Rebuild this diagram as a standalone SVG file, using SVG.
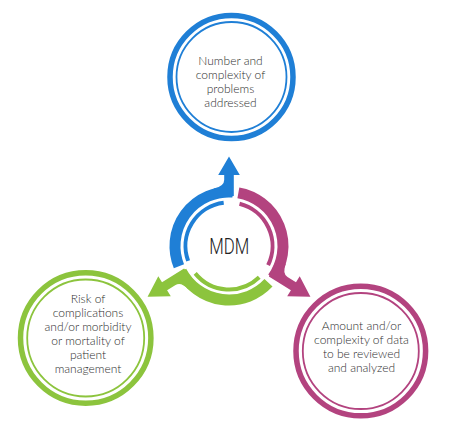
<svg xmlns="http://www.w3.org/2000/svg" width="450" height="428" viewBox="0 0 450 428">
<style>
.lbl{font-family:Lato,"Open Sans","Liberation Sans",sans-serif;font-size:12px;font-weight:300;fill:#2e2e2e;text-anchor:middle}
.ring{fill:none;stroke-width:5.5}
.thin{fill:none;stroke-width:1.8}
.band{fill:none;stroke-width:11}
.iband{fill:none;stroke-width:4}
.blue{stroke:#1f7fd6}
.purple{stroke:#b3437f}
.green{stroke:#8cc43d}
</style>
<defs>
<path id="arrowShort" d="M4.8 -50 L4.8 -71 L10.8 -71 L0 -89.5 L-10.8 -71 L-4.8 -71 L-4.8 -66 Q-4.8 -59.5 -15.4 -57.5 L-10 -48 Z"/>
<path id="arrowLong" d="M4.8 -50 L4.8 -76 L11.8 -76 L0 -96 L-11.8 -76 L-4.8 -76 L-4.8 -66 Q-4.8 -59.5 -15.4 -57.5 L-10 -48 Z"/>
</defs>
<rect width="450" height="428" fill="#fff"/>

<g id="connectors">
  <path class="band blue" d="M178.93 266.23 A54 54 0 0 1 232.77 192.13"/>
  <path class="iband blue" d="M188.12 260.88 A43.5 43.5 0 0 1 223.70 202.82"/>
  <use href="#arrowShort" fill="#1f7fd6" transform="translate(229,246)"/>

  <path class="band purple" d="M238.38 192.82 A54 54 0 0 1 272.69 277.74"/>
  <path class="iband purple" d="M239.52 203.79 A43.5 43.5 0 0 1 268.10 265.07"/>
  <use href="#arrowLong" fill="#b3437f" transform="translate(229,246) rotate(122)"/>

  <path class="band green" d="M268.49 282.83 A54 54 0 0 1 181.32 271.35"/>
  <path class="iband green" d="M259.22 277.29 A43.5 43.5 0 0 1 195.19 273.38"/>
  <use href="#arrowLong" fill="#8cc43d" transform="translate(229,246) rotate(-122)"/>
</g>

<g id="mdm">
  <text x="229.3" y="254" font-family="Roboto,'Liberation Sans',Arial,sans-serif" font-weight="300" font-size="22" fill="#222" text-anchor="middle" textLength="40" lengthAdjust="spacingAndGlyphs">MDM</text>
</g>

<g id="problems">
  <circle class="ring blue" cx="231.5" cy="77" r="61.5"/>
  <circle class="thin blue" cx="231.5" cy="77" r="55"/>
  <text class="lbl" x="230.5" y="65">Number and</text>
  <text class="lbl" x="230.5" y="79">complexity of</text>
  <text class="lbl" x="230.5" y="93">problems</text>
  <text class="lbl" x="230.5" y="107">addressed</text>
</g>

<g id="risk">
  <circle class="ring green" cx="85.7" cy="338" r="65.2"/>
  <circle class="thin green" cx="85.7" cy="338" r="58.5"/>
  <text class="lbl" x="88" y="303">Risk of</text>
  <text class="lbl" x="88" y="317">complications</text>
  <text class="lbl" x="88" y="331">and/or morbidity</text>
  <text class="lbl" x="88" y="345">or mortality of</text>
  <text class="lbl" x="88" y="359">patient</text>
  <text class="lbl" x="88" y="373">management</text>
</g>

<g id="data">
  <circle class="ring purple" cx="360.8" cy="351" r="64.8"/>
  <circle class="thin purple" cx="360.8" cy="351" r="58"/>
  <text class="lbl" x="361.5" y="330">Amount and/or</text>
  <text class="lbl" x="361.5" y="344">complexity of data</text>
  <text class="lbl" x="361.5" y="358">to be reviewed</text>
  <text class="lbl" x="361.5" y="372">and analyzed</text>
</g>
</svg>
